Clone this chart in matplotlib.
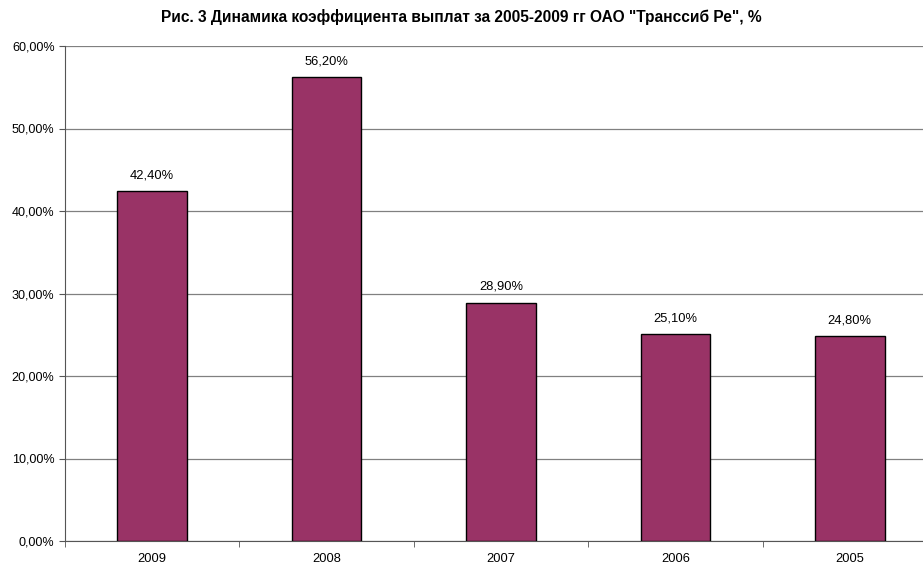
import matplotlib
matplotlib.use("Agg")
import matplotlib.pyplot as plt
from matplotlib.ticker import FixedLocator, FuncFormatter

plt.rcParams['font.family'] = ['Liberation Sans', 'DejaVu Sans']

categories = ["2009", "2008", "2007", "2006", "2005"]
values = [42.4, 56.2, 28.9, 25.1, 24.8]
labels = ["42,40%", "56,20%", "28,90%", "25,10%", "24,80%"]
title = 'Рис. 3 Динамика коэффициента выплат за 2005-2009 гг ОАО "Транссиб Ре", %'

fig = plt.figure(figsize=(9.23, 5.63), dpi=100)
ax = fig.add_axes([65/923, 1-541/563, (937-65)/923, (541-46)/563])

x = list(range(len(categories)))
ax.bar(x, values, width=0.4, color="#993366", edgecolor="black", linewidth=1.0, zorder=3)
for xi, v, lb in zip(x, values, labels):
    ax.text(xi, v + 1.2, lb, ha="center", va="bottom", fontsize=9.3, zorder=4)

ax.set_xlim(-0.5, len(categories) - 0.5)
ax.set_ylim(0, 60)
ax.set_yticks([0, 10, 20, 30, 40, 50, 60])
ax.yaxis.set_major_formatter(FuncFormatter(lambda v, p: f"{v:.2f}".replace(".", ",") + "%"))
ax.grid(axis="y", color="#808080", linewidth=0.9, zorder=0)

ax.set_xticks(x)
ax.set_xticklabels(categories, fontsize=9.3)
ax.tick_params(axis="x", length=0, pad=9)
ax.xaxis.set_minor_locator(FixedLocator([i + 0.5 for i in range(-1, len(categories))]))
ax.tick_params(axis="x", which="minor", length=4, color="#555555", direction="out")
ax.tick_params(axis="y", labelsize=9.1, length=4, color="#555555", direction="out")

for s in ["top", "right"]:
    ax.spines[s].set_visible(False)
ax.spines["left"].set_color("#555555")
ax.spines["bottom"].set_color("#555555")

fig.text(0.5, 1 - 17/563, title, ha="center", va="center", fontsize=11.2, fontweight="bold")

fig.savefig("out.png", dpi=100)
